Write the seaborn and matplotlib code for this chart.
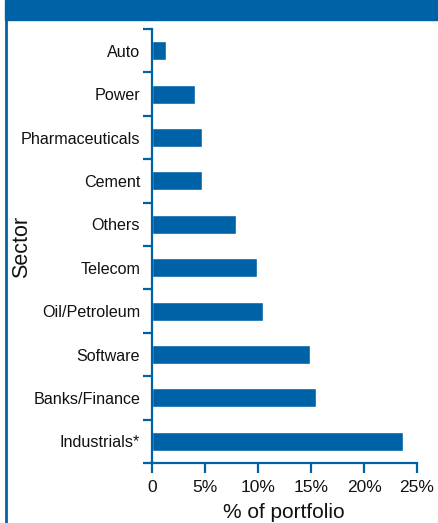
import matplotlib
matplotlib.use("Agg")
import matplotlib.pyplot as plt
import seaborn as sns
import pandas as pd
import numpy as np
from matplotlib.patches import Rectangle
from matplotlib.lines import Line2D

sectors = ["Auto", "Power", "Pharmaceuticals", "Cement", "Others", "Telecom",
           "Oil/Petroleum", "Software", "Banks/Finance", "Industrials*"]
weights = [1.3, 4.1, 4.7, 4.7, 7.9, 9.9, 10.5, 14.9, 15.5, 23.7]
xticks = [0, 5, 10, 15, 20, 25]
xtick_labels = ["0", "5%", "10%", "15%", "20%", "25%"]

BLUE = "#0062A6"

sns.set_theme(style="white")
plt.rcParams['font.family'] = ['Liberation Sans', 'DejaVu Sans']

df = pd.DataFrame({"Sector": sectors, "Weight": weights})

fig = plt.figure(figsize=(4.39, 5.23), dpi=100)
W, H = 439, 523
ax = fig.add_axes([152 / W, 1 - 463 / H, (417 - 152) / W, (463 - 29) / H])

sns.barplot(data=df, x="Weight", y="Sector", order=sectors, color=BLUE,
            saturation=1, width=0.44, ax=ax)

ax.set_xlim(0, 25)
ax.set_ylim(len(sectors) - 0.5, -0.5)

for s in ["top", "right"]:
    ax.spines[s].set_visible(False)
for s in ["left", "bottom"]:
    ax.spines[s].set_color(BLUE)
    ax.spines[s].set_linewidth(1.6)

ax.set_xticks(xticks)
ax.set_xticklabels(xtick_labels, fontsize=12.5)
ax.tick_params(axis="x", direction="out", length=7, width=1.6, color=BLUE,
               pad=5.5, labelcolor="#111111", bottom=True)

ax.set_yticks(range(len(sectors)))
ax.set_yticklabels(sectors, fontsize=11.6)
ax.tick_params(axis="y", which="major", length=0, pad=8.5, labelcolor="#111111", left=True)
ax.set_yticks(np.arange(-0.5, len(sectors), 1.0), minor=True)
ax.tick_params(axis="y", which="minor", direction="out", length=6.5, width=1.6,
               color=BLUE, left=True)

ax.set_xlabel("")
ax.set_ylabel("")
fig.text((220 + 348) / 2 / W, 1 - 512 / H, "% of portfolio", fontsize=15,
         ha="center", va="center", color="#111111")
fig.text(22 / W, 1 - 247 / H, "Sector", rotation=90, fontsize=15.5,
         ha="center", va="center", color="#111111")

# header band and left border
fig.patches.append(Rectangle((5 / W, 1 - 20 / H), 1 - 5 / W, 20 / H,
                             transform=fig.transFigure, color=BLUE, zorder=0))
fig.lines.append(Line2D([6 / W, 6 / W], [0, 1 - 20 / H], transform=fig.transFigure,
                        color=BLUE, linewidth=2))

fig.savefig("out.png", dpi=100)
